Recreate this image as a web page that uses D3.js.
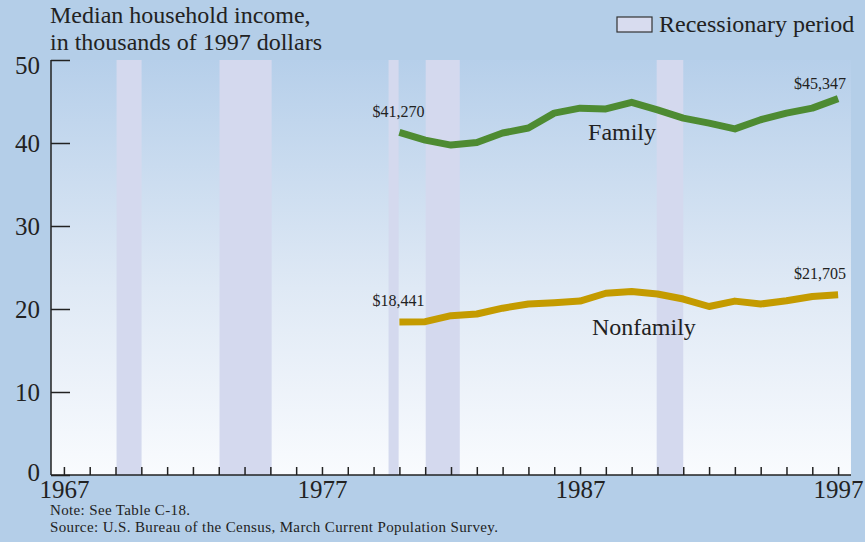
<!DOCTYPE html>
<html>
<head>
<meta charset="utf-8">
<script src="https://cdn.jsdelivr.net/npm/d3@7"></script>
<style>
  html, body { margin: 0; padding: 0; background: #b4cee8; }
  svg { display: block; }
  text { font-family: "Liberation Serif", "Times New Roman", serif; fill: #222; }
</style>
</head>
<body>
<svg id="chart" width="865" height="542"></svg>
<script>
// Median household income, thousands of 1997 dollars
const years = [1980, 1981, 1982, 1983, 1984, 1985, 1986, 1987, 1988, 1989,
               1990, 1991, 1992, 1993, 1994, 1995, 1996, 1997];
const family = [41.27, 40.35, 39.75, 40.05, 41.2, 41.8, 43.6, 44.2, 44.1, 44.9,
                44.0, 43.0, 42.4, 41.7, 42.8, 43.6, 44.2, 45.347];
const nonfamily = [18.441, 18.47, 19.2, 19.4, 20.1, 20.6, 20.75, 20.95, 21.9, 22.1,
                   21.8, 21.2, 20.3, 20.95, 20.6, 21.0, 21.5, 21.705];

// Recessionary periods [start, end] on the year scale
const recessions = [[1969.04, 1970.01], [1973.03, 1975.05], [1979.58, 1979.97],
                    [1981.02, 1982.34], [1989.97, 1991.0]];

const yTicks = [0, 10, 20, 30, 40, 50];
const xLabelYears = [1967, 1977, 1987, 1997];
const endLabels = [
  { year: 1980, value: 41.27, text: "$41,270" },
  { year: 1997, value: 45.347, text: "$45,347" },
  { year: 1980, value: 18.441, text: "$18,441" },
  { year: 1997, value: 21.705, text: "$21,705" }
];

const svg = d3.select("#chart");
const plotLeft = 51, plotRight = 851, plotTop = 60, plotBottom = 475;

const x = d3.scaleLinear().domain([1966.5, 1997.5]).range([plotLeft, plotRight]);
const y = d3.scaleLinear().domain([0, 50]).range([plotBottom, plotTop]);

// plot-area gradient
const defs = svg.append("defs");
const grad = defs.append("linearGradient").attr("id", "bg")
  .attr("x1", 0).attr("y1", 0).attr("x2", 0).attr("y2", 1);
grad.append("stop").attr("offset", "0%").attr("stop-color", "#b6cfea");
grad.append("stop").attr("offset", "55%").attr("stop-color", "#dfe9f5");
grad.append("stop").attr("offset", "100%").attr("stop-color", "#f9fbfe");

svg.append("rect").attr("x", plotLeft).attr("y", plotTop)
  .attr("width", plotRight - plotLeft).attr("height", plotBottom - plotTop)
  .attr("fill", "url(#bg)");

// recession bands
svg.append("g").selectAll("rect").data(recessions).join("rect")
  .attr("x", d => x(d[0]))
  .attr("width", d => x(d[1]) - x(d[0]))
  .attr("y", plotTop).attr("height", plotBottom - plotTop)
  .attr("fill", "#d4d9ee");

// axes
const yAxis = d3.axisLeft(y).tickValues(yTicks).tickSize(-19).tickPadding(11);
const gy = svg.append("g").attr("transform", `translate(${plotLeft},0)`).call(yAxis);
gy.select(".domain").remove();
gy.selectAll(".tick line").attr("stroke", "#222").attr("stroke-width", 1.5);
gy.selectAll(".tick text").attr("font-size", 25)
  .attr("font-family", "Liberation Serif").attr("fill", "#222")
  .attr("dy", d => d === 50 ? "0.55em" : d === 0 ? "0.2em" : "0.32em");

const xAxis = d3.axisBottom(x).tickValues(d3.range(1967, 1998)).tickSize(-8).tickPadding(23)
  .tickFormat(d => xLabelYears.includes(d) ? String(d) : "");
const gx = svg.append("g").attr("transform", `translate(0,${plotBottom})`).call(xAxis);
gx.select(".domain").remove();
gx.selectAll(".tick line").attr("stroke", "#222").attr("stroke-width", 1.5);
gx.selectAll(".tick text").attr("font-size", 25).attr("dy", 0)
  .attr("font-family", "Liberation Serif").attr("fill", "#222");

svg.append("line").attr("x1", plotLeft).attr("x2", plotLeft).attr("y1", plotTop).attr("y2", plotBottom)
  .attr("stroke", "#222").attr("stroke-width", 1.5);
svg.append("line").attr("x1", plotLeft).attr("x2", plotRight).attr("y1", plotBottom).attr("y2", plotBottom)
  .attr("stroke", "#222").attr("stroke-width", 1.5);

// series lines
const line = d3.line().x((d, i) => x(years[i])).y(d => y(d));
svg.append("path").datum(family).attr("d", line)
  .attr("fill", "none").attr("stroke", "#4e8b32").attr("stroke-width", 7)
  .attr("stroke-linejoin", "round");
svg.append("path").datum(nonfamily).attr("d", line)
  .attr("fill", "none").attr("stroke", "#c49b00").attr("stroke-width", 7)
  .attr("stroke-linejoin", "round");

// value labels at series ends
svg.append("g").selectAll("text").data(endLabels).join("text")
  .attr("x", d => x(d.year) + (d.year === 1980 ? -1 : -18))
  .attr("y", d => y(d.value) - (d.year === 1980 ? 15.5 : d.value > 30 ? 10 : 16))
  .attr("text-anchor", "middle").attr("font-size", 16)
  .text(d => d.text);

// series names
svg.append("text").attr("x", x(1987.31)).attr("y", y(40.36)).attr("font-size", 24).text("Family");
svg.append("text").attr("x", x(1987.46)).attr("y", y(16.87)).attr("font-size", 24).text("Nonfamily");

// title
svg.append("text").attr("x", 50).attr("y", 23).attr("font-size", 24).text("Median household income,");
svg.append("text").attr("x", 50).attr("y", 50).attr("font-size", 24).text("in thousands of 1997 dollars");

// legend
svg.append("rect").attr("x", 617).attr("y", 17).attr("width", 35).attr("height", 15)
  .attr("fill", "#d8dcef").attr("stroke", "#333").attr("stroke-width", 1.2);
svg.append("text").attr("x", 659).attr("y", 32).attr("font-size", 24).text("Recessionary period");

// notes
svg.append("text").attr("x", 50).attr("y", 514.5).attr("font-size", 15)
  .attr("textLength", 140).attr("lengthAdjust", "spacing").text("Note: See Table C-18.");
svg.append("text").attr("x", 50).attr("y", 532).attr("font-size", 15)
  .attr("textLength", 448).attr("lengthAdjust", "spacing")
  .text("Source: U.S. Bureau of the Census, March Current Population Survey.");
</script>
</body>
</html>
